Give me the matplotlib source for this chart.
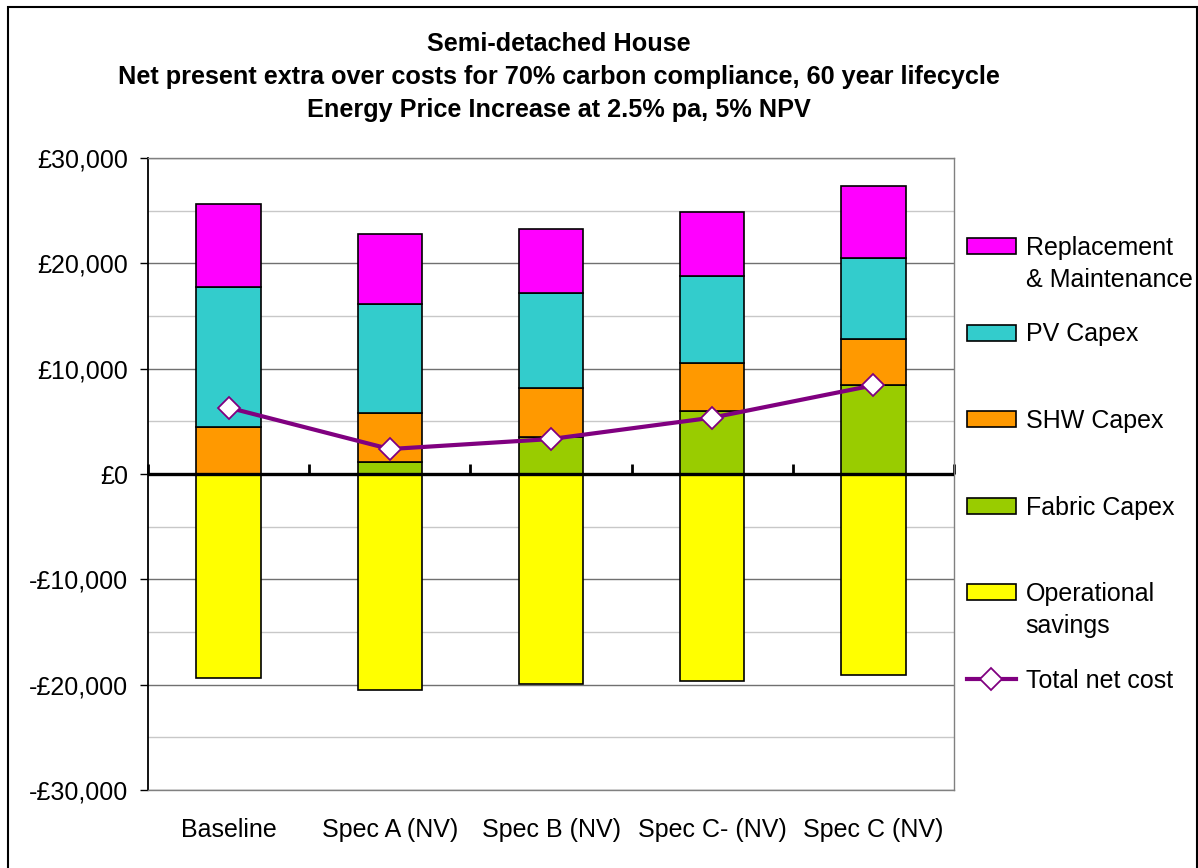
import numpy as np
import matplotlib.pyplot as plt
import matplotlib.patches as patches
from matplotlib.lines import Line2D
from matplotlib.ticker import FuncFormatter
import matplotlib

matplotlib.rcParams['font.family'] = ['Liberation Sans', 'DejaVu Sans']

# net present cost components per spec, in pounds
specs = ['Baseline', 'Spec A (NV)', 'Spec B (NV)', 'Spec C- (NV)', 'Spec C (NV)']
operational_savings = [-19350, -20500, -19970, -19660, -19090]
fabric_capex = [0, 1170, 3510, 6010, 8420]
shw_capex = [4500, 4650, 4660, 4560, 4430]
pv_capex = [13300, 10320, 9020, 8230, 7630]
replacement_maint = [7800, 6620, 6080, 6110, 6870]
total_net_cost = [6300, 2370, 3320, 5350, 8420]

fig = plt.figure(figsize=(11.98, 8.68), dpi=100)
ax = fig.add_axes([148/1198, 1-790/868, 806/1198, 632/868])

x = np.arange(len(specs))
w = 0.4
edge = dict(edgecolor='black', linewidth=1.2, zorder=3)

b_ops = ax.bar(x, operational_savings, w, color='#FFFF00', **edge)
b_fab = ax.bar(x, fabric_capex, w, color='#99CC00', **edge)
bottom = np.array(fabric_capex)
b_shw = ax.bar(x, shw_capex, w, bottom=bottom, color='#FF9900', **edge)
bottom = bottom + np.array(shw_capex)
b_pv = ax.bar(x, pv_capex, w, bottom=bottom, color='#33CCCC', **edge)
bottom = bottom + np.array(pv_capex)
b_rm = ax.bar(x, replacement_maint, w, bottom=bottom, color='#FF00FF', **edge)

line_style = dict(color='#800080', lw=3, marker='D', markersize=11,
                  markerfacecolor='white', markeredgecolor='#800080', markeredgewidth=1.3)
ax.plot(x, total_net_cost, zorder=7, **line_style)

ax.set_xlim(-0.5, len(specs)-0.5)
ax.set_ylim(-30000, 30000)

# gridlines: dark at 10k, light at 5k
ax.set_yticks(np.arange(-30000, 30001, 10000))
ax.set_yticks(np.arange(-25000, 30000, 10000), minor=True)
ax.grid(True, which='major', axis='y', color='#707070', lw=1.0, zorder=0)
ax.grid(True, which='minor', axis='y', color='#c8c8c8', lw=1.0, zorder=0)
ax.set_axisbelow(True)

def money(v, pos):
    v = int(round(v))
    if v == 0:
        return '£0'
    s = '£{:,}'.format(abs(v))
    return '-' + s if v < 0 else s
ax.yaxis.set_major_formatter(FuncFormatter(money))
ax.tick_params(axis='y', which='major', direction='out', length=6, width=1, labelsize=18, pad=8.5)
ax.tick_params(axis='y', which='minor', length=0)

ax.set_xticks(x)
ax.set_xticklabels(specs)
ax.tick_params(axis='x', length=0, labelsize=18, pad=20)

for s in ['top', 'right', 'bottom']:
    ax.spines[s].set_color('#808080')
    ax.spines[s].set_linewidth(1.0)
ax.spines['left'].set_color('black')
ax.spines['left'].set_linewidth(1.3)

# category axis along zero with boundary ticks, drawn over the bars
ax.axhline(0, color='black', lw=2.4, zorder=6)
bounds = np.arange(-0.5, len(specs), 1.0)
zero_axis = ax.secondary_xaxis(0.5)
zero_axis.set_xticks(bounds, labels=[''] * len(bounds))
zero_axis.tick_params(direction='out', length=7, width=2)
zero_axis.spines['bottom'].set_linewidth(2.4)

fig.text(559/1198, 1-77/868,
         'Semi-detached House\n'
         'Net present extra over costs for 70% carbon compliance, 60 year lifecycle\n'
         'Energy Price Increase at 2.5% pa, 5% NPV',
         ha='center', va='center', fontsize=18.2, fontweight='bold', linespacing=1.45)

# legend rows sit on a fixed pitch; second lines of long labels hang below
handles = [b_rm, b_pv, b_shw, b_fab, b_ops, Line2D([], [], **line_style)]
labels = ['Replacement', 'PV Capex', 'SHW Capex', 'Fabric Capex', 'Operational', 'Total net cost']
extra_lines = {0: '& Maintenance', 4: 'savings'}
leg = fig.legend(handles, labels, loc='upper left', bbox_to_anchor=(967/1198, 1-236/868),
                 frameon=False, fontsize=18, handlelength=1.95, handleheight=0.6,
                 handletextpad=0.4, labelspacing=2.5, borderaxespad=0, borderpad=0)

fig.canvas.draw()
inv = fig.transFigure.inverted()
for i, txt in extra_lines.items():
    bb = leg.get_texts()[i].get_window_extent()
    x0, y0 = inv.transform((bb.x0, bb.y0 - 32 + bb.height / 2))
    fig.text(x0, y0, txt, fontsize=18, ha='left', va='center')

fig.patches.append(patches.Rectangle((8/1198, -0.05), 1189/1198, 1.05-7/868,
                                     transform=fig.transFigure, fill=False,
                                     edgecolor='black', lw=1.5))

plt.savefig('out.png', dpi=100)
